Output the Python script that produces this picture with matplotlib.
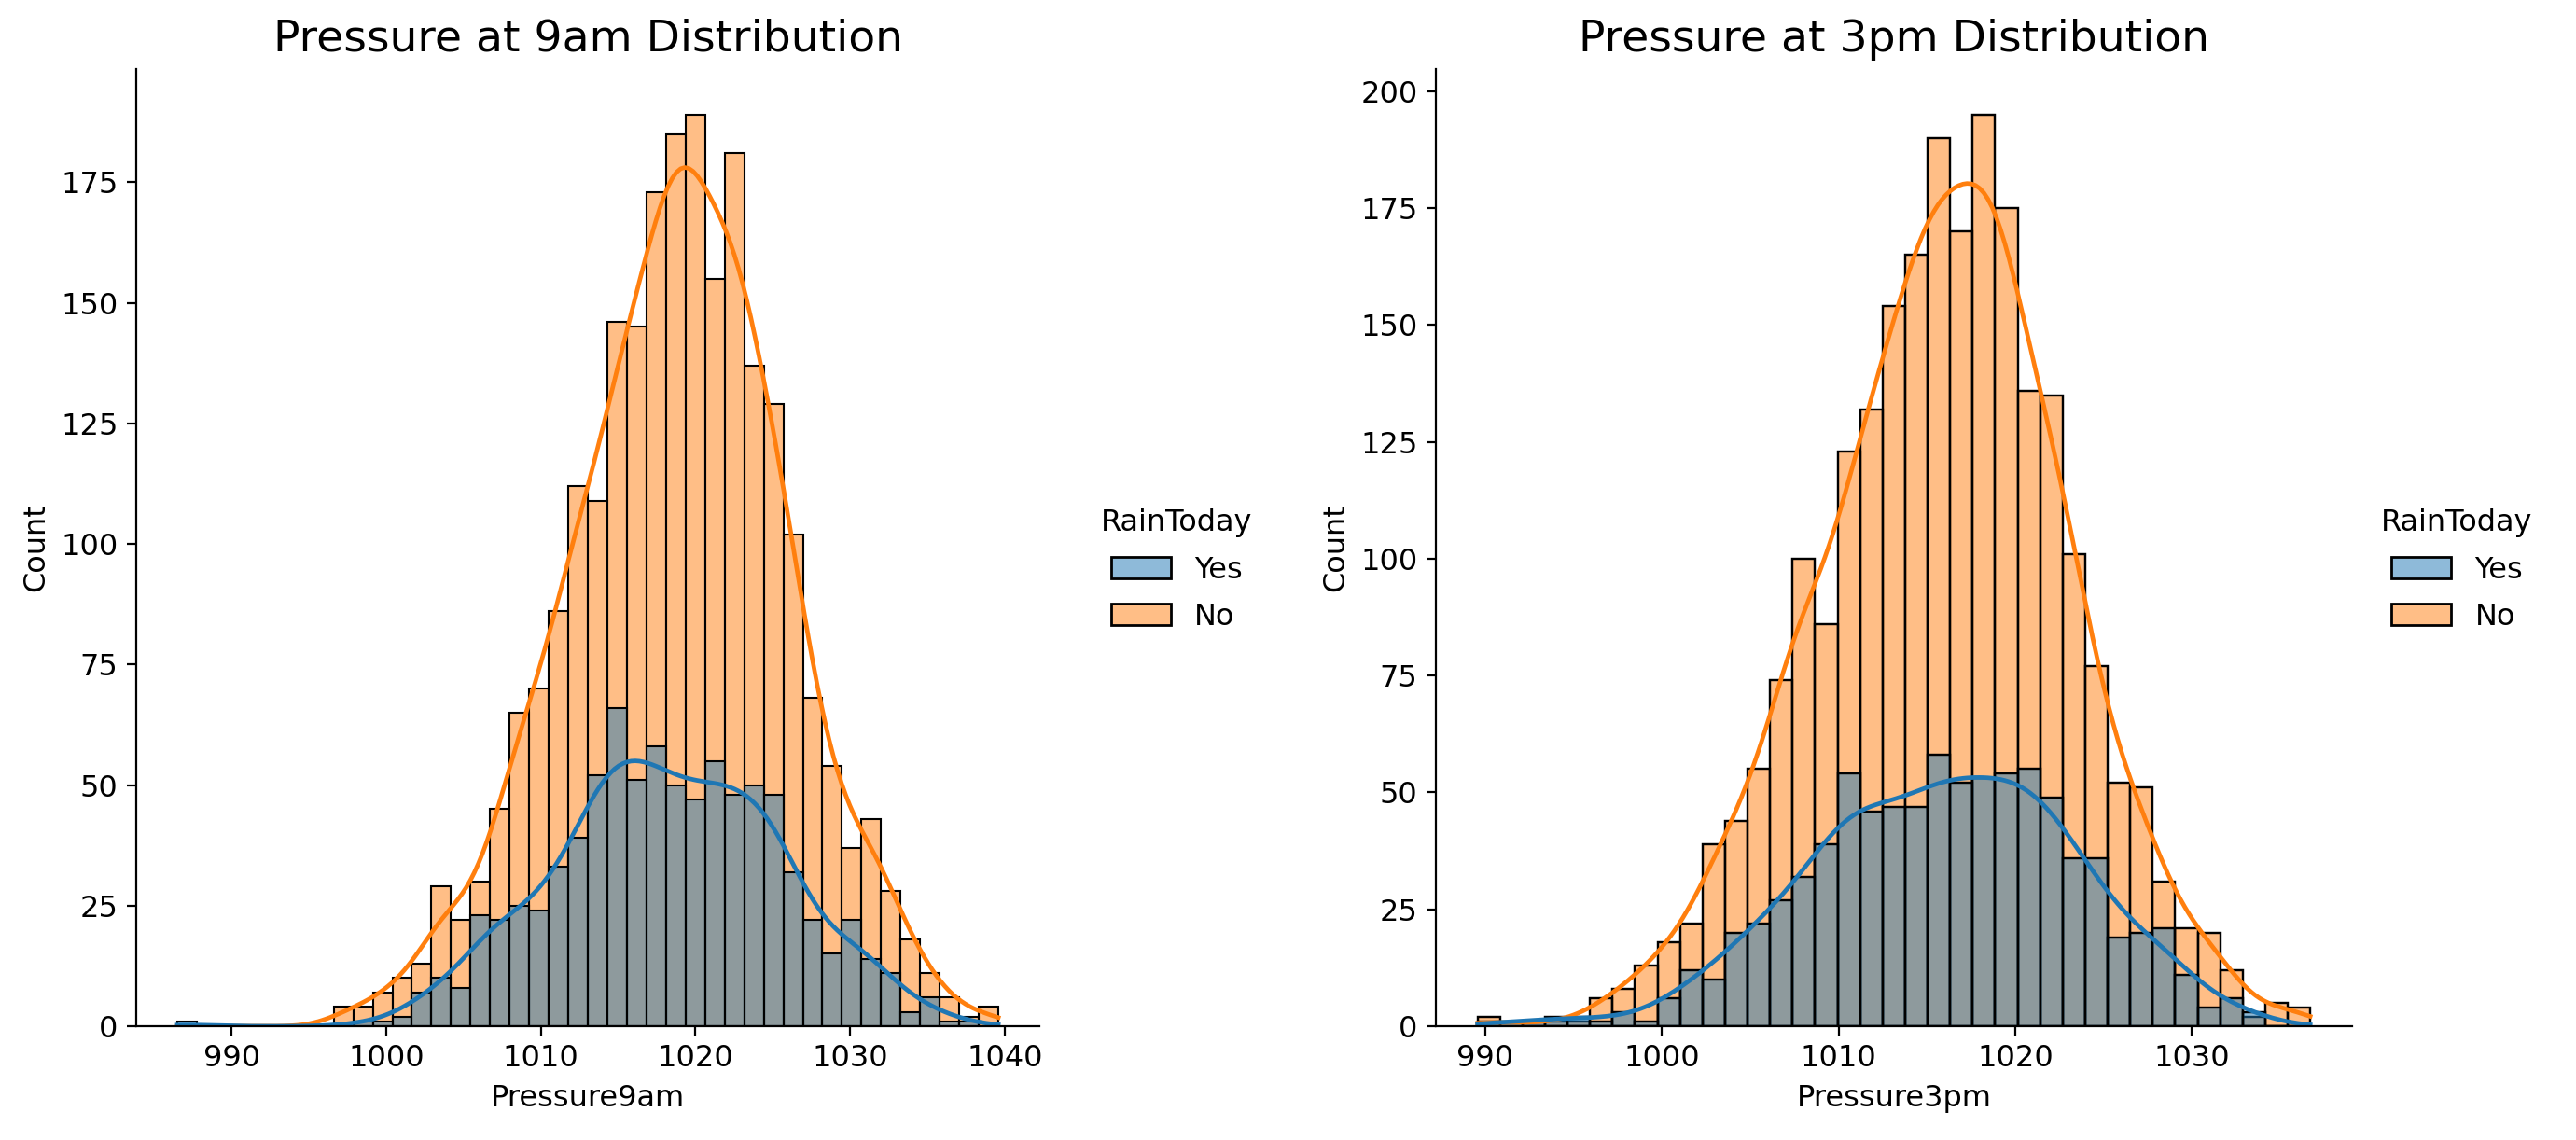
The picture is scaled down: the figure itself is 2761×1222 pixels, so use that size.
import numpy as np
import pandas as pd
import matplotlib
matplotlib.use("Agg")
import matplotlib.pyplot as plt
import seaborn as sns

hue_levels = ["Yes", "No"]

# Pressure at 9am: histogram bins and counts per RainToday level
p9_bin_start = 986.5
p9_bin_width = 1.264
p9_yes = [1, 0, 0, 0, 0, 0, 0, 0, 0, 1, 1, 2, 7, 10, 8, 23, 22, 25, 24, 33, 39,
          52, 66, 51, 58, 50, 47, 55, 48, 50, 48, 32, 22, 15, 22, 14, 11, 3, 6, 1, 1, 0]
p9_no = [0, 0, 0, 0, 0, 0, 0, 0, 4, 4, 7, 10, 13, 29, 22, 30, 45, 65, 70, 86, 112,
         109, 146, 145, 173, 185, 189, 155, 181, 137, 129, 102, 68, 54, 37, 43, 28, 18, 11, 6, 2, 4]

# Pressure at 3pm
p3_bin_start = 989.56
p3_bin_width = 1.274
p3_yes = [1, 1, 1, 2, 2, 1, 3, 1, 6, 12, 10, 20, 22, 27, 32, 39, 54, 46, 47, 47, 58,
          52, 53, 54, 55, 49, 36, 36, 19, 20, 21, 11, 4, 6, 3, 0, 0]
p3_no = [2, 0, 1, 1, 1, 6, 8, 13, 18, 22, 39, 44, 55, 74, 100, 86, 123, 132, 154, 165, 190,
         170, 195, 175, 136, 135, 101, 77, 52, 51, 31, 21, 20, 12, 2, 5, 4]

plt.rcParams.update({
    "font.size": 11.5,
    "xtick.labelsize": 11.5,
    "ytick.labelsize": 11.5,
    "axes.labelsize": 11.5,
    "legend.fontsize": 11.5,
    "legend.title_fontsize": 11.5,
})

fig = plt.figure(figsize=(2761 / 200, 1222 / 200), dpi=200)
ax1 = fig.add_axes([0.0529, 0.0998, 0.3506, 0.8396])
ax2 = fig.add_axes([0.5574, 0.0998, 0.3556, 0.8396])


def draw(ax, col, start, width, yes, no, title, leg_x):
    n = len(yes)
    edges = start + width * np.arange(n + 1)
    centers = (edges[:-1] + edges[1:]) / 2
    values = np.concatenate([np.repeat(centers, yes), np.repeat(centers, no)])
    labels = ["Yes"] * int(sum(yes)) + ["No"] * int(sum(no))
    df = pd.DataFrame({col: values, "RainToday": labels})
    sns.histplot(data=df, x=col, hue="RainToday", hue_order=hue_levels,
                 bins=edges, kde=True, line_kws={"linewidth": 1.7},
                 kde_kws={"cut": 3, "clip": (edges[0], edges[-1])}, ax=ax)
    sns.despine(ax=ax)
    ax.set_title(title, fontsize=17, pad=7)
    sns.move_legend(ax, "center left", bbox_to_anchor=(leg_x, 0.5),
                    bbox_transform=fig.transFigure, frameon=False,
                    labelspacing=0.6)


draw(ax1, "Pressure9am", p9_bin_start, p9_bin_width, p9_yes, p9_no,
     "Pressure at 9am Distribution", 0.417)
draw(ax2, "Pressure3pm", p3_bin_start, p3_bin_width, p3_yes, p3_no,
     "Pressure at 3pm Distribution", 0.914)

fig.savefig("out.png", dpi=200)
